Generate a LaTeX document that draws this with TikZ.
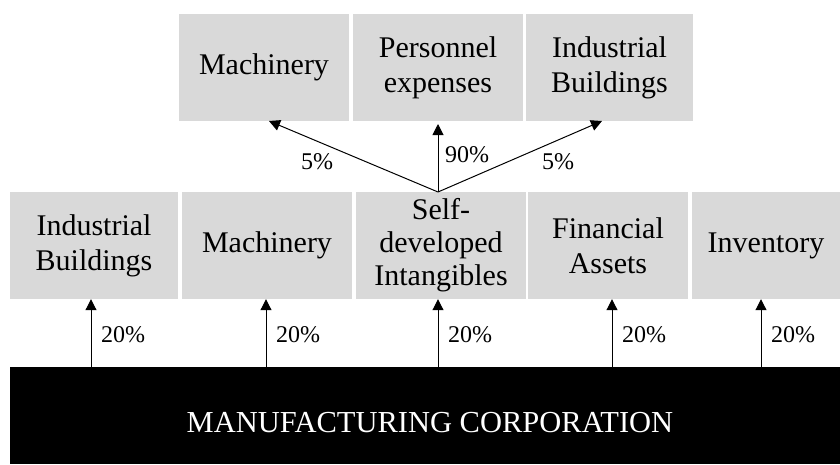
\documentclass[tikz,border=0pt]{standalone}
\usepackage{fontspec}
\setmainfont{Liberation Serif}
\usetikzlibrary{arrows.meta}
\tikzset{
  box/.style={fill=boxgray, inner sep=0pt, minimum height=107pt, align=center,
    font=\fontsize{30}{35}\selectfont},
  pct/.style={inner sep=0pt, font=\fontsize{24}{28}\selectfont},
  arr/.style={line width=1pt, -{Triangle[width=11pt,length=11pt]}}
}
\definecolor{boxgray}{HTML}{D9D9D9}
\begin{document}
\begin{tikzpicture}[x=1pt,y=-1pt]
\useasboundingbox (0,0) rectangle (840,464);
% top row
\node[box, minimum width=170pt] (tmach) at (264,67.5) {Machinery};
\node[box, minimum width=170pt] (tpers) at (438,67.5) {Personnel\\expenses};
\node[box, minimum width=167pt] (tind) at (609.5,67.5) {Industrial\\Buildings};
% middle row
\node[box, minimum width=168pt] (mind) at (94,245.5) {Industrial\\Buildings};
\node[box, minimum width=170pt] (mmach) at (267,245.5) {Machinery};
\node[box, minimum width=170pt, font=\fontsize{30}{33}\selectfont] (mself) at (441,245.5) {Self-\\developed\\Intangibles};
\node[box, minimum width=160pt] (mfin) at (608,245.5) {Financial\\Assets};
\node[box, minimum width=148pt] (minv) at (766,245.5) {Inventory};
% corporation
\node[fill=black, text=white, inner sep=0pt, minimum width=830pt, minimum height=97pt,
  font=\fontsize{30.5}{34}\selectfont] (corp) at (425,415.5)
  {\hspace*{10pt}\raisebox{-7pt}[\height][\depth]{MANUFACTURING CORPORATION}};
% split arrows
\coordinate (src) at (438,192);
\coordinate (tmachend) at (269,121);
\coordinate (tpersend) at (438,124);
\coordinate (tindend) at (602,121);
\draw[arr] (src) -- (tmachend);
\draw[arr] (src) -- (tpersend);
\draw[arr] (src) -- (tindend);
\node[pct] (p1) at (317,162) {5\%};
\node[pct] (p2) at (467,155) {90\%};
\node[pct] (p3) at (558,162) {5\%};
% corporation arrows
\foreach \x/\b/\n in {91/mind/a, 266/mmach/b, 438/mself/c, 612/mfin/d, 761/minv/e}{
  \draw[arr] (corp.north -| \x,0) -- (\b.south -| \x,0);
  \node[pct] (l\n) at (\x+32,335) {20\%};
}
\end{tikzpicture}
\end{document}
